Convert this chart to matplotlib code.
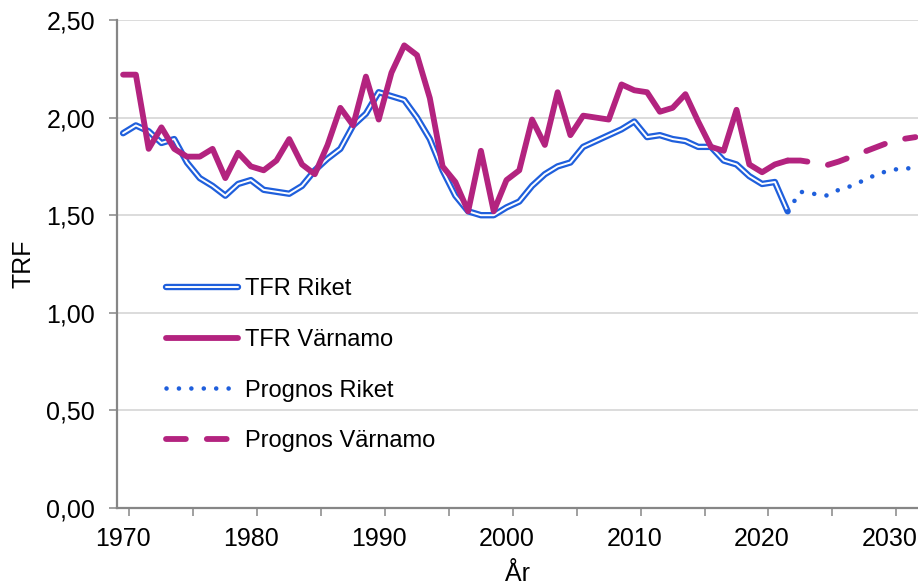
import matplotlib
matplotlib.use("Agg")
import matplotlib.pyplot as plt
from matplotlib.ticker import FixedLocator, FuncFormatter, MultipleLocator
from matplotlib.legend_handler import HandlerTuple

plt.rcParams['font.family'] = ['Liberation Sans', 'DejaVu Sans']

# ---- data ----
years_actual = list(range(1970, 2023))
tfr_riket = [1.92, 1.96, 1.93, 1.87, 1.89, 1.77, 1.69, 1.65, 1.60, 1.66,
             1.68, 1.63, 1.62, 1.61, 1.65, 1.73, 1.79, 1.84, 1.96, 2.02,
             2.13, 2.11, 2.09, 2.00, 1.89, 1.73, 1.60, 1.52, 1.50, 1.50,
             1.54, 1.57, 1.65, 1.71, 1.75, 1.77, 1.85, 1.88, 1.91, 1.94,
             1.98, 1.90, 1.91, 1.89, 1.88, 1.85, 1.85, 1.78, 1.76, 1.70,
             1.66, 1.67, 1.52]
tfr_varnamo = [2.22, 2.22, 1.84, 1.95, 1.84, 1.80, 1.80, 1.84, 1.69, 1.82,
               1.75, 1.73, 1.78, 1.89, 1.76, 1.71, 1.86, 2.05, 1.96, 2.21,
               1.99, 2.23, 2.37, 2.32, 2.10, 1.75, 1.67, 1.52, 1.83, 1.52,
               1.68, 1.73, 1.99, 1.86, 2.13, 1.91, 2.01, 2.00, 1.99, 2.17,
               2.14, 2.13, 2.03, 2.05, 2.12, 1.98, 1.85, 1.83, 2.04, 1.76,
               1.72, 1.76, 1.78]
years_prognos = list(range(2022, 2033))
prognos_riket = [1.52, 1.62, 1.61, 1.60, 1.63, 1.65, 1.68, 1.71, 1.73, 1.74, 1.74]
prognos_varnamo = [1.78, 1.78, 1.77, 1.755, 1.775, 1.80, 1.825, 1.85, 1.875, 1.89, 1.90]

labels = ["TFR Riket", "TFR Värnamo", "Prognos Riket", "Prognos Värnamo"]
x_tick_years = [1970, 1980, 1990, 2000, 2010, 2020, 2030]
y_ticks = [0.0, 0.5, 1.0, 1.5, 2.0, 2.5]

BLUE = '#1f5fdc'
MAGENTA = '#b3237f'
GRID = '#d9d9d9'
AXIS = '#868686'
FS = 18
FS_LEG = 17

fig = plt.figure(figsize=(9.18, 5.85), dpi=100)
ax = fig.add_axes([116.7 / 918, 77 / 585, (918 - 116.7) / 918, 488 / 585])

l_riket_o, = ax.plot(years_actual, tfr_riket, color=BLUE, lw=4.6,
                     solid_joinstyle='round', solid_capstyle='round', zorder=3)
l_riket_i, = ax.plot(years_actual, tfr_riket, color='white', lw=1.4,
                     solid_joinstyle='round', solid_capstyle='round', zorder=3.1)
l_varn, = ax.plot(years_actual, tfr_varnamo, color=MAGENTA, lw=4.2,
                  solid_joinstyle='round', solid_capstyle='round', zorder=4)
l_prr, = ax.plot(years_prognos, prognos_riket, color=BLUE, lw=3.3,
                 linestyle=(0, (0.01, 2.7)), dash_capstyle='round', zorder=5)
l_prv, = ax.plot(years_prognos, prognos_varnamo, color=MAGENTA, lw=4.2,
                 linestyle=(0, (3.4, 3.6)), dash_capstyle='round', zorder=5)

x_left = 1969.5
x_right = x_left + (918 - 116.7) / 12.78
ax.set_xlim(x_left, x_right)
ax.set_ylim(0, 2.5)

ax.xaxis.set_major_locator(FixedLocator(x_tick_years))
ax.xaxis.set_minor_locator(MultipleLocator(5, offset=0.5))
ax.tick_params(axis='x', which='major', length=0, pad=13.5, labelsize=FS, colors='black')
ax.tick_params(axis='x', which='minor', length=5.5, width=1.1, color=AXIS)
ax.yaxis.set_major_locator(FixedLocator(y_ticks))
ax.yaxis.set_major_formatter(FuncFormatter(lambda v, p: f"{v:.2f}".replace('.', ',')))
ax.tick_params(axis='y', which='major', length=5.5, width=1.1, color=AXIS,
               pad=10, labelsize=FS, labelcolor='black')

ax.grid(axis='y', color=GRID, lw=1.3, zorder=0)
ax.set_axisbelow(True)
for s in ['top', 'right']:
    ax.spines[s].set_visible(False)
for s in ['left', 'bottom']:
    ax.spines[s].set_color(AXIS)
    ax.spines[s].set_linewidth(1.6)

ax.set_ylabel("TRF", fontsize=FS, labelpad=7.5)
ax.set_xlabel("År", fontsize=FS, labelpad=8)

leg = ax.legend([(l_riket_o, l_riket_i), l_varn, l_prr, l_prv], labels,
                handler_map={tuple: HandlerTuple(ndivide=1, pad=0)},
                loc='upper left', bbox_to_anchor=(166 / 918, 1 - 278 / 585),
                bbox_transform=fig.transFigure, frameon=False, fontsize=FS_LEG,
                borderpad=0, borderaxespad=0, handlelength=3.05,
                handletextpad=0.3, labelspacing=1.22)

fig.savefig("out.png", dpi=100)
